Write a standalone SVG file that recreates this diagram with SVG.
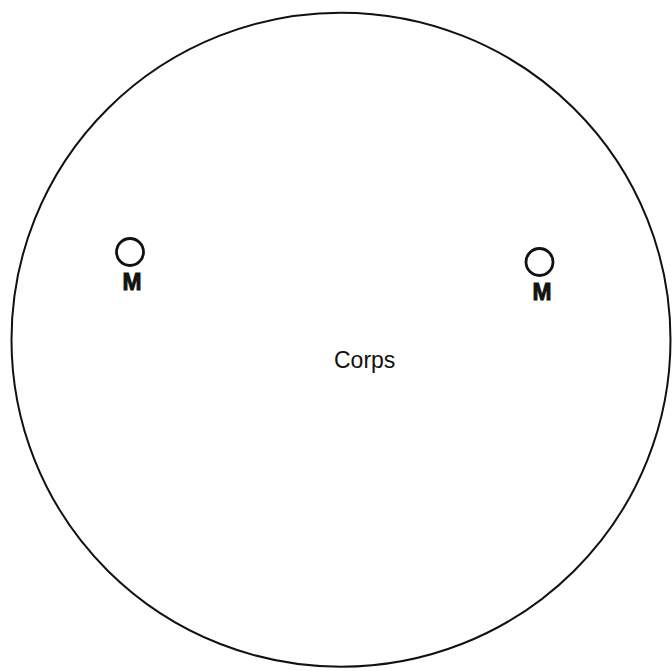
<svg xmlns="http://www.w3.org/2000/svg" width="672" height="671" viewBox="0 0 672 671">
<style>
.outline{fill:none;stroke:#111;stroke-width:2}
.mark{fill:none;stroke:#111;stroke-width:2.8}
.m{font-family:"Liberation Sans",Arial,sans-serif;font-weight:bold;font-size:23px;fill:#111;stroke:#111;stroke-width:0.9;text-anchor:middle}
.lbl{font-family:"Liberation Sans",Arial,sans-serif;font-size:23px;fill:#111}
</style>
<rect width="672" height="671" fill="#fff"/>
<g id="corps">
<ellipse class="outline" cx="341" cy="339.7" rx="329.5" ry="327"/>
<text class="lbl" x="334" y="368">Corps</text>
</g>
<g id="m-left">
<circle class="mark" cx="130" cy="252" r="13.5"/>
<text class="m" x="132" y="290" textLength="19" lengthAdjust="spacingAndGlyphs">M</text>
</g>
<g id="m-right">
<circle class="mark" cx="539.5" cy="262" r="13.5"/>
<text class="m" x="542" y="300" textLength="19" lengthAdjust="spacingAndGlyphs">M</text>
</g>
<g id="connectors"/>
</svg>
